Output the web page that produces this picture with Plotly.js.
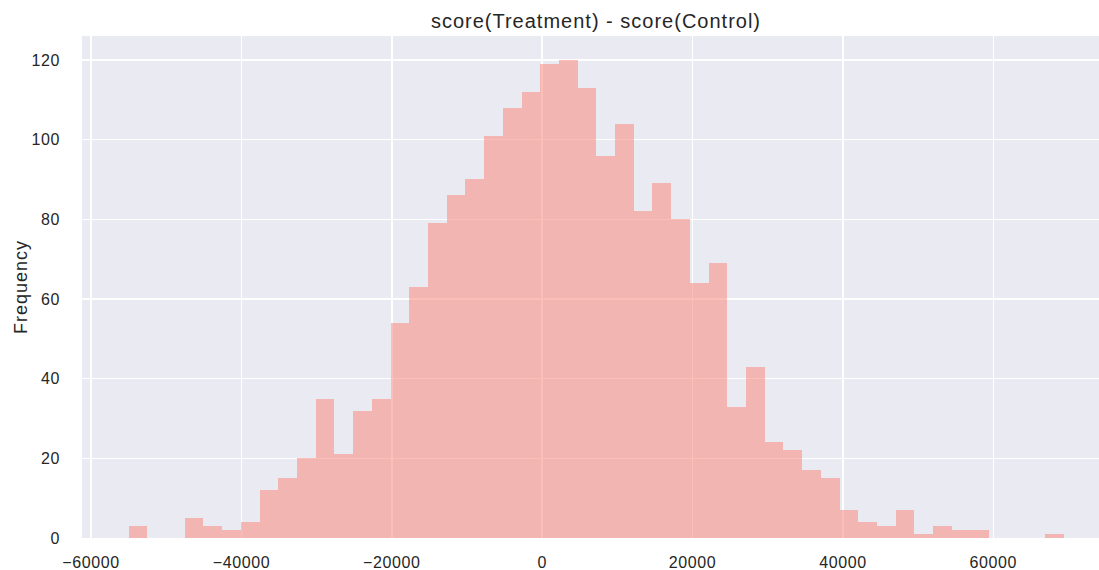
<!DOCTYPE html>
<html>
<head>
<meta charset="utf-8">
<script src="https://cdn.plot.ly/plotly-3.0.1.min.js"></script>
<style>
html,body{margin:0;padding:0;background:#fff;}
#chart{width:1099px;height:570px;}
#chart .xtick text, #chart .ytick text{letter-spacing:0.6px;}
#chart .gtitle{letter-spacing:1px;}
#chart .ytitle{letter-spacing:1px;}
</style>
</head>
<body>
<div id="chart"></div>
<script>
// Histogram of score(Treatment) - score(Control), 50 bins
var binStart = -55010;
var binWidth = 2488.5;
var counts = [
  3, 0, 0, 5, 3, 2, 4, 12, 15, 20,
  35, 21, 32, 35, 54, 63, 79, 86, 90, 101,
  108, 112, 119, 120, 113, 96, 104, 82, 89, 80,
  64, 69, 33, 43, 24, 22, 17, 15, 7, 4,
  3, 7, 1, 3, 2, 2, 0, 0, 0, 1
];
var xTickVals = [-60000, -40000, -20000, 0, 20000, 40000, 60000];
var xTickText = ['\u221260000', '\u221240000', '\u221220000', '0', '20000', '40000', '60000'];
var yTickVals = [0, 20, 40, 60, 80, 100, 120];
var titleText = 'score(Treatment) - score(Control)';
var yLabel = 'Frequency';

var centers = counts.map(function (c, i) { return binStart + (i + 0.5) * binWidth; });

var font = 'Liberation Sans, Arial, Helvetica, sans-serif';
var textColor = '#262626';
var trace = {
  type: 'bar',
  x: centers,
  y: counts,
  width: binWidth,
  marker: { color: 'rgba(250,128,114,0.5)', line: { width: 0 } },
  hoverinfo: 'x+y'
};

var layout = {
  width: 1099,
  height: 570,
  margin: { l: 82, r: 0, t: 36, b: 32, pad: 0 },
  paper_bgcolor: '#ffffff',
  plot_bgcolor: '#EAEAF2',
  showlegend: false,
  bargap: 0,
  font: { family: font, color: textColor, size: 16 },
  title: {
    text: titleText,
    font: { family: font, size: 20, color: textColor },
    x: 0.5054, xref: 'paper', xanchor: 'center',
    y: 0.963, yref: 'container', yanchor: 'middle'
  },
  xaxis: {
    range: [-61200, 74050],
    tickvals: xTickVals,
    ticktext: xTickText,
    showgrid: true,
    gridcolor: '#ffffff',
    gridwidth: 1.5,
    zeroline: false,
    showline: false,
    ticks: '',
    ticklabelstandoff: 13,
    tickfont: { family: font, size: 16, color: textColor },
    fixedrange: true
  },
  yaxis: {
    range: [0, 126],
    tickvals: yTickVals,
    showgrid: true,
    gridcolor: '#ffffff',
    gridwidth: 1.5,
    zeroline: false,
    showline: false,
    ticks: '',
    ticklabelstandoff: 21,
    tickfont: { family: font, size: 16, color: textColor },
    title: { text: yLabel, font: { family: font, size: 18, color: textColor }, standoff: 0 },
    fixedrange: true
  }
};

Plotly.newPlot('chart', [trace], layout, { displayModeBar: false, staticPlot: true });
</script>
</body>
</html>
